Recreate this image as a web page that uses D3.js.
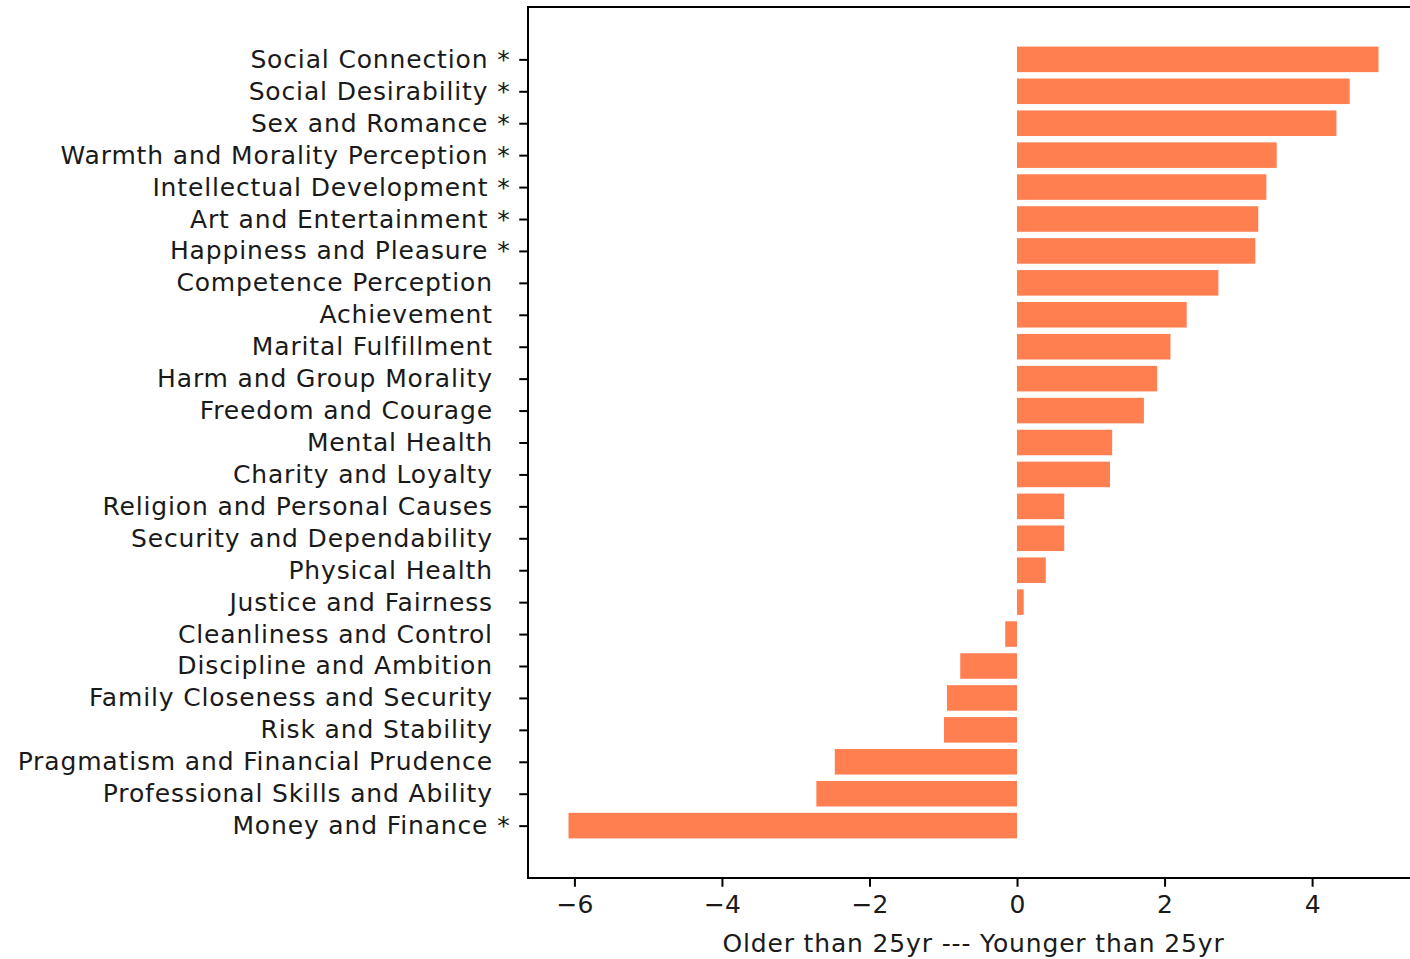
<!DOCTYPE html>
<html>
<head>
<meta charset="utf-8">
<script src="https://cdn.jsdelivr.net/npm/d3@7"></script>
<style>
  html, body { margin: 0; padding: 0; background: #fff; }
  svg { display: block; overflow: hidden; }
  text { font-family: "DejaVu Sans", sans-serif; }
</style>
</head>
<body>
<svg id="chart" width="1410" height="959"></svg>
<script>
// Categories listed top to bottom
const categories = [
  "Social Connection *",
  "Social Desirability *",
  "Sex and Romance *",
  "Warmth and Morality Perception *",
  "Intellectual Development *",
  "Art and Entertainment *",
  "Happiness and Pleasure *",
  "Competence Perception  ",
  "Achievement  ",
  "Marital Fulfillment  ",
  "Harm and Group Morality  ",
  "Freedom and Courage  ",
  "Mental Health  ",
  "Charity and Loyalty  ",
  "Religion and Personal Causes  ",
  "Security and Dependability  ",
  "Physical Health  ",
  "Justice and Fairness  ",
  "Cleanliness and Control  ",
  "Discipline and Ambition  ",
  "Family Closeness and Security  ",
  "Risk and Stability  ",
  "Pragmatism and Financial Prudence  ",
  "Professional Skills and Ability  ",
  "Money and Finance *"
];
const values = [
  4.90, 4.51, 4.33, 3.52, 3.38, 3.27, 3.23, 2.73, 2.30, 2.08,
  1.90, 1.72, 1.29, 1.26, 0.64, 0.64, 0.39, 0.09, -0.16, -0.77,
  -0.95, -0.99, -2.47, -2.72, -6.08
];
const xTicks = [-6, -4, -2, 0, 2, 4];
const xLabel = "Older than 25yr --- Younger than 25yr";

(function () {
const svg = d3.select("#chart");
const pLeft = 528, pTop = 7, pBottom = 878, pRight = 1419;
const n = categories.length;
const barH = 0.8;
const txtColor = "#1a1a1a";
const ls = "0.85px";

const vmin = d3.min(values), vmax = d3.max(values);
const xm = (vmax - vmin) * 0.05;
const x = d3.scaleLinear().domain([vmin - xm, vmax + xm]).range([pLeft, pRight]);

const ylo = -barH / 2, yhi = (n - 1) + barH / 2;
const ym = (yhi - ylo) * 0.05;
const y = d3.scaleLinear().domain([ylo - ym, yhi + ym]).range([pBottom, pTop]);
const idx = i => n - 1 - i;

// bars
svg.append("g").selectAll("rect")
  .data(values)
  .join("rect")
  .attr("x", d => x(Math.min(0, d)))
  .attr("width", d => Math.abs(x(d) - x(0)))
  .attr("y", (d, i) => y(idx(i) + barH / 2))
  .attr("height", (d, i) => y(idx(i) - barH / 2) - y(idx(i) + barH / 2))
  .attr("fill", "#FF7F50");

// x axis
const xAxis = svg.append("g")
  .attr("transform", `translate(0,${pBottom})`)
  .call(d3.axisBottom(x).tickValues(xTicks).tickSize(8.75).tickPadding(8.75).tickSizeOuter(0));
xAxis.select(".domain").remove();
xAxis.selectAll(".tick line").attr("stroke", "#000").attr("stroke-width", 2);
xAxis.selectAll(".tick text").attr("font-size", 25).attr("fill", txtColor)
  .attr("font-family", "DejaVu Sans, sans-serif");

// y axis
const yAxis = svg.append("g")
  .attr("transform", `translate(${pLeft},0)`)
  .call(d3.axisLeft(y).tickValues(d3.range(n)).tickFormat(v => categories[n - 1 - v])
    .tickSize(8.75).tickPadding(8.75).tickSizeOuter(0));
yAxis.select(".domain").remove();
yAxis.selectAll(".tick line").attr("stroke", "#000").attr("stroke-width", 2);
yAxis.selectAll(".tick text").attr("font-size", 25).attr("fill", txtColor)
  .attr("font-family", "DejaVu Sans, sans-serif")
  .style("letter-spacing", ls)
  .style("white-space", "pre");

// spines
svg.append("rect")
  .attr("x", pLeft).attr("y", pTop)
  .attr("width", pRight - pLeft).attr("height", pBottom - pTop)
  .attr("fill", "none").attr("stroke", "#000").attr("stroke-width", 2);

// x label
svg.append("text")
  .attr("x", (pLeft + pRight) / 2)
  .attr("y", 952)
  .attr("text-anchor", "middle")
  .attr("font-size", 25)
  .attr("fill", txtColor)
  .style("letter-spacing", ls)
  .text(xLabel);
})();
</script>
</body>
</html>
